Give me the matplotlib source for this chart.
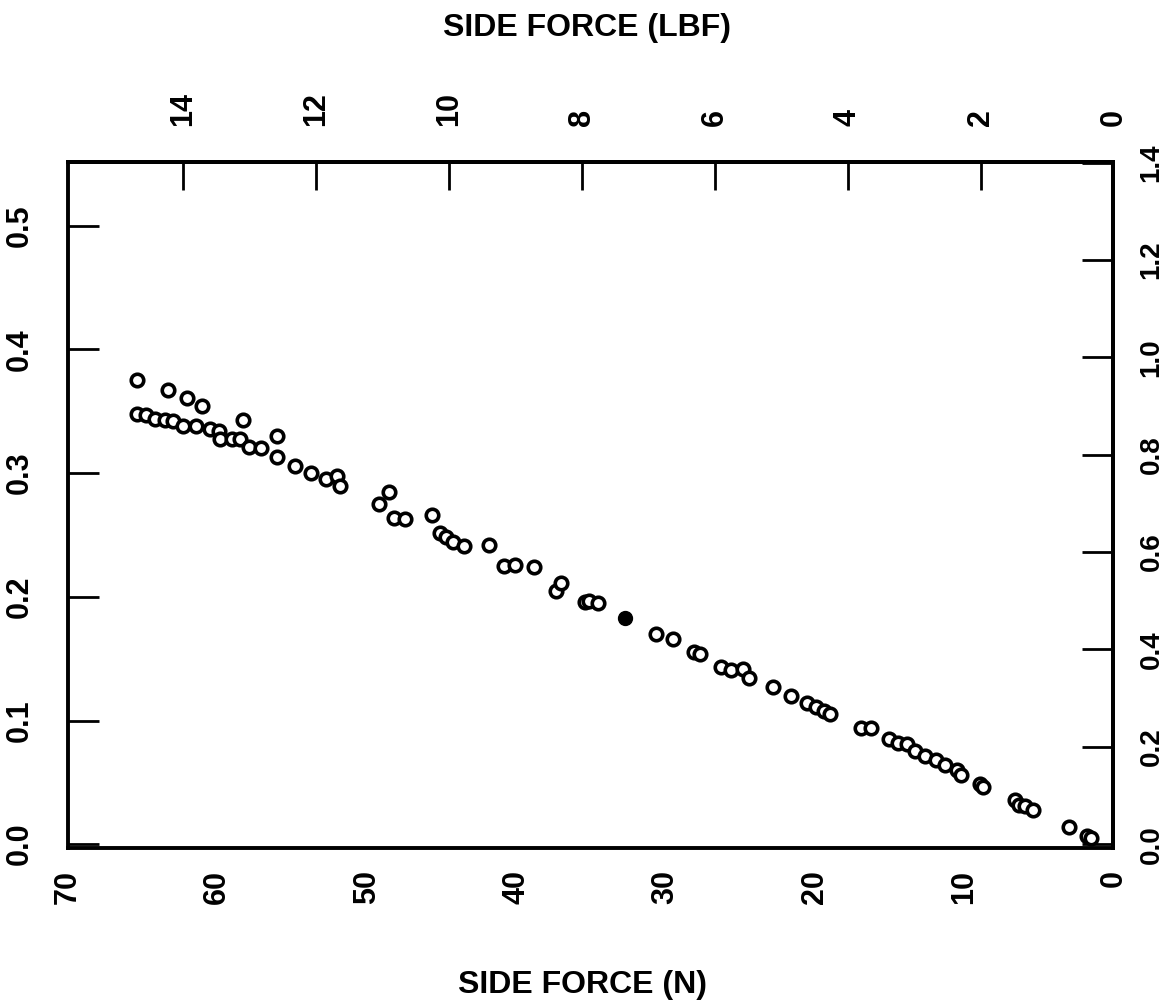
import numpy as np
import matplotlib.pyplot as plt

# side force (N) and displacement readings
force_n = [65.4, 63.3, 62.0, 61.0, 58.3, 56.0,
           65.4, 64.8, 64.2, 63.5, 63.0, 62.3, 61.4, 60.5, 59.9, 59.8, 59.0, 58.5,
           57.9, 57.1, 56.0, 54.8, 53.7, 52.7, 52.0, 51.8, 49.2, 48.5, 48.2, 47.4,
           45.6, 45.1, 44.7, 44.2, 43.5, 41.8, 40.8, 40.1, 38.8, 37.3, 37.0,
           35.4, 35.1, 34.5, 30.6, 29.5, 28.1, 27.7, 26.3, 25.6, 24.8, 24.4,
           22.8, 21.6, 20.5, 19.9, 19.4, 19.0, 16.9, 16.2, 15.0, 14.4, 13.8,
           13.3, 12.6, 11.9, 11.3, 10.5, 10.2, 8.9, 8.7, 6.6, 6.3, 5.9, 5.4,
           3.0, 1.8, 1.5]
disp = [0.375, 0.367, 0.361, 0.354, 0.343, 0.330,
        0.348, 0.347, 0.344, 0.343, 0.342, 0.338, 0.338, 0.336, 0.334, 0.328, 0.328, 0.328,
        0.321, 0.320, 0.313, 0.306, 0.300, 0.295, 0.298, 0.290, 0.275, 0.285, 0.264, 0.263,
        0.266, 0.252, 0.248, 0.244, 0.241, 0.242, 0.225, 0.226, 0.224, 0.205, 0.211,
        0.196, 0.197, 0.195, 0.170, 0.166, 0.155, 0.154, 0.143, 0.141, 0.142, 0.134,
        0.127, 0.120, 0.114, 0.111, 0.108, 0.105, 0.094, 0.094, 0.085, 0.082, 0.081,
        0.075, 0.071, 0.068, 0.064, 0.060, 0.056, 0.049, 0.046, 0.036, 0.032, 0.031, 0.028,
        0.014, 0.007, 0.005]
filled_n = [32.7]
filled_disp = [0.183]

N_PER_LBF = 4.448
CM_PER_IN = 2.54

x_ticks = [0, 10, 20, 30, 40, 50, 60, 70]
y_ticks = [0.0, 0.1, 0.2, 0.3, 0.4, 0.5]
lbf_ticks = [0, 2, 4, 6, 8, 10, 12, 14]
cm_ticks = [0.0, 0.2, 0.4, 0.6, 0.8, 1.0, 1.2, 1.4]

plt.rcParams['font.family'] = ['Liberation Sans', 'DejaVu Sans']
plt.rcParams['font.weight'] = 'bold'

fig = plt.figure(figsize=(11.72, 10.07), dpi=100)
ax = fig.add_axes([0.058, 0.158, 0.892, 0.681])

ax.plot(force_n, disp, 'o', ms=9, mfc='white', mec='black', mew=2.6, ls='none')
ax.plot(filled_n, filled_disp, 'o', ms=10, mfc='black', mec='black')

ax.set_xlim(70, 0)
ax.set_ylim(-0.003, 0.5515)

for s in ax.spines.values():
    s.set_linewidth(2.8)

ax.set_xticks(x_ticks)
ax.set_xticklabels([str(v) for v in x_ticks], rotation=90, fontsize=22, fontweight='bold')
ax.tick_params(axis='x', length=0, pad=16)
ax.set_yticks(y_ticks)
ax.set_yticklabels(['%.1f' % v for v in y_ticks], rotation=90, va='center',
                   fontsize=22, fontweight='bold')
ax.tick_params(axis='y', direction='in', length=22, width=2, pad=24)

top = ax.secondary_xaxis('top', functions=(lambda n: n / N_PER_LBF,
                                           lambda f: f * N_PER_LBF))
top.set_xticks(lbf_ticks)
top.set_xticklabels([str(v) for v in lbf_ticks], rotation=90, fontsize=22, fontweight='bold')
top.tick_params(direction='in', length=20, width=2, pad=26)
top.spines['top'].set_linewidth(2.8)

right = ax.secondary_yaxis('right', functions=(lambda v: v * CM_PER_IN,
                                               lambda c: c / CM_PER_IN))
right.set_yticks(cm_ticks)
right.set_yticklabels(['%.1f' % v for v in cm_ticks], rotation=90, va='center',
                      fontsize=20, fontweight='bold')
right.tick_params(direction='in', length=22, width=2, pad=18)
right.spines['right'].set_linewidth(2.8)

fig.text(0.497, 0.022, 'SIDE FORCE (N)', ha='center', va='center',
         fontsize=23, fontweight='bold')
fig.text(0.501, 0.972, 'SIDE FORCE (LBF)', ha='center', va='center',
         fontsize=23, fontweight='bold')

fig.savefig('out.png', dpi=100)
